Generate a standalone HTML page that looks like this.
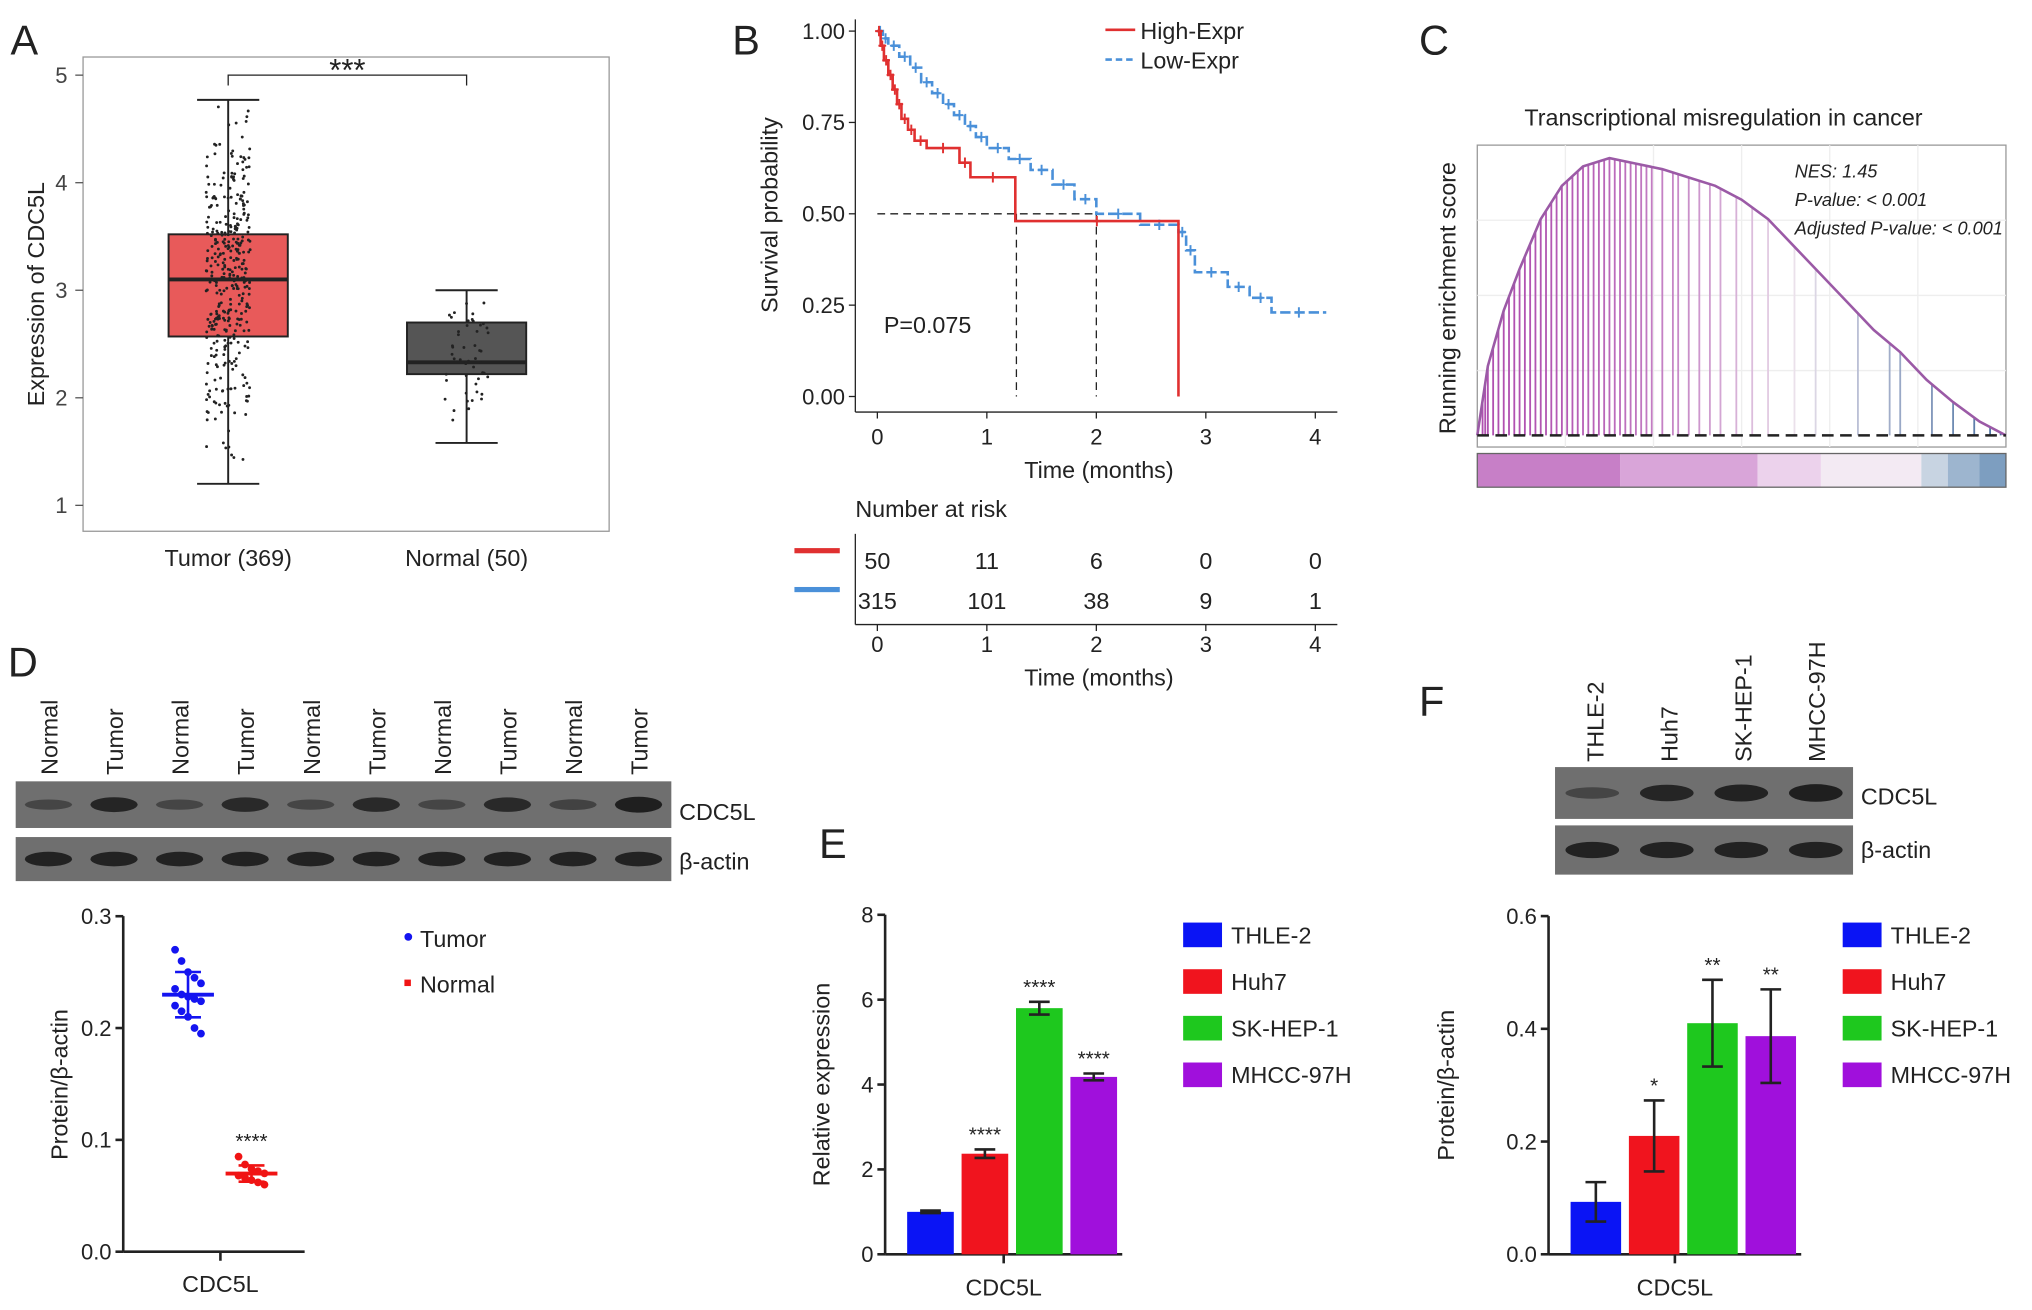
<!DOCTYPE html>
<html><head><meta charset="utf-8"><style>
html,body{margin:0;padding:0;background:#fff}
svg{display:block;font-family:"Liberation Sans",Arial,sans-serif}
</style></head><body>
<svg id="fig" width="2032" height="1310" viewBox="0 0 1568 1011" xmlns="http://www.w3.org/2000/svg">
<g id="gA"></g>
<g id="gB"></g>
<g id="gC"></g>
<g id="gD"></g>
<g id="gE"></g>
<g id="gF"></g>
</svg>
<script>
// ---------- data ----------
const boxGroups=["Tumor (369)","Normal (50)"];
const boxQ1=[2.57,2.22], boxMed=[3.1,2.33], boxQ3=[3.52,2.7], boxLo=[1.2,1.58], boxHi=[4.77,3.0];
const boxN=[369,50];
const kmHighT=[0,0.03,0.06,0.1,0.14,0.18,0.22,0.28,0.34,0.45,0.75,0.85,1.26,2.75];
const kmHighS=[1,0.96,0.92,0.88,0.84,0.8,0.76,0.73,0.7,0.68,0.64,0.6,0.48,0];
const kmLowT=[0,0.05,0.1,0.2,0.3,0.4,0.5,0.6,0.7,0.8,0.9,1.0,1.2,1.4,1.6,1.8,2.0,2.4,2.75,2.82,2.9,3.2,3.4,3.6,4.1];
const kmLowS=[1,0.98,0.96,0.93,0.9,0.86,0.83,0.8,0.77,0.74,0.71,0.68,0.65,0.62,0.58,0.54,0.5,0.47,0.45,0.4,0.34,0.3,0.27,0.23,0.23];
const riskTimes=[0,1,2,3,4];
const riskHigh=[50,11,6,0,0], riskLow=[315,101,38,9,1];
const esX=[0,0.02,0.05,0.08,0.12,0.16,0.2,0.25,0.3,0.35,0.4,0.45,0.5,0.55,0.6,0.65,0.7,0.75,0.8,0.85,0.9,0.95,1];
const esY=[0,0.25,0.45,0.6,0.78,0.9,0.97,1.0,0.98,0.96,0.93,0.9,0.85,0.78,0.68,0.58,0.48,0.38,0.3,0.2,0.12,0.05,0];
const hits=[0.01,0.015,0.02,0.03,0.04,0.05,0.06,0.07,0.08,0.09,0.1,0.11,0.12,0.13,0.14,0.15,0.16,0.17,0.18,0.19,0.2,0.21,0.22,0.23,0.24,0.25,0.26,0.27,0.28,0.29,0.3,0.31,0.32,0.33,0.35,0.37,0.38,0.4,0.42,0.44,0.46,0.49,0.52,0.55,0.6,0.64,0.72,0.78,0.8,0.86,0.9,0.94,0.97,0.99];
const dTumor=[0.27,0.26,0.25,0.245,0.24,0.235,0.23,0.228,0.226,0.224,0.22,0.215,0.21,0.2,0.195];
const dNormal=[0.085,0.078,0.074,0.072,0.07,0.068,0.066,0.064,0.062,0.06];
const barCats=["THLE-2","Huh7","SK-HEP-1","MHCC-97H"];
const barColors=["#0a14f5","#f0141e","#1ec81e","#a010dc"];
const eVals=[1.0,2.37,5.8,4.18], eErr=[0.03,0.1,0.15,0.08], eStars=["","****","****","****"];
const eTicks=[0,2,4,6,8];
const fVals=[0.093,0.21,0.41,0.387], fErr=[0.035,0.063,0.077,0.083], fStars=["","*","**","**"];
const fTicks=[0,0.2,0.4,0.6];

// ---------- helpers ----------
const NS="http://www.w3.org/2000/svg";
function mk(p,tag,at,txt){const e=document.createElementNS(NS,tag);for(const k in at)e.setAttribute(k,at[k]);if(txt!==undefined)e.textContent=txt;p.appendChild(e);return e;}
let seed=7;function rnd(){seed=(seed*16807)%2147483647;return seed/2147483647;}
function label(p,x,y,t,s,extra){const e=mk(p,"text",Object.assign({x:x,y:y,"font-size":s||18,fill:"#222"},extra||{}),t);return e;}

// ---------- A ----------
(function(){const g=document.getElementById("gA");
const y=v=>390-(v-1)*83;
label(g,8,42,"A",32);
const fr=mk(g,"rect",{x:64,y:44,width:406,height:366,fill:"none",stroke:"#999"});

[1,2,3,4,5].forEach(v=>{mk(g,"line",{x1:58,x2:64,y1:y(v),y2:y(v),stroke:"#555"});
const t=label(g,52,y(v)+6,String(v),17,{"text-anchor":"end",fill:"#444"});});
const yt=label(g,34,227,"Expression of CDC5L",18,{"text-anchor":"middle",transform:"rotate(-90 34 227)"});

const cx=[176,360],w=[92,92],fill=["#e85a5a","#555"];
boxGroups.forEach((n,i)=>{
 mk(g,"line",{x1:cx[i],x2:cx[i],y1:y(boxLo[i]),y2:y(boxHi[i]),stroke:"#222","stroke-width":1.5});
 [boxLo[i],boxHi[i]].forEach(v=>mk(g,"line",{x1:cx[i]-24,x2:cx[i]+24,y1:y(v),y2:y(v),stroke:"#222","stroke-width":1.5}));
 const b=mk(g,"rect",{x:cx[i]-w[i]/2,y:y(boxQ3[i]),width:w[i],height:y(boxQ1[i])-y(boxQ3[i]),fill:fill[i],stroke:"#222","stroke-width":1.5});
 
 mk(g,"line",{x1:cx[i]-w[i]/2,x2:cx[i]+w[i]/2,y1:y(boxMed[i]),y2:y(boxMed[i]),stroke:"#222","stroke-width":3});
 for(let k=0;k<boxN[i];k++){const u=(rnd()+rnd()+rnd()-1.5)/1.5;const v=boxMed[i]+u*(boxQ3[i]-boxQ1[i])*2.0;
  const vv=Math.max(boxLo[i]-0.25,Math.min(boxHi[i],v));mk(g,"circle",{cx:cx[i]+(rnd()-0.5)*34,cy:y(vv),r:1.1,fill:"#222"});}
 const t=label(g,cx[i],437,n,18,{"text-anchor":"middle"});
});
mk(g,"path",{d:"M176 66 V58 H360 V66",fill:"none",stroke:"#222"});
label(g,268,62,"***",24,{"text-anchor":"middle"});
})();

// ---------- B ----------
(function(){const g=document.getElementById("gB");
const x=t=>677+t*84.5,y=s=>306-s*282;
label(g,565,42,"B",32);
mk(g,"line",{x1:660,x2:660,y1:15,y2:318,stroke:"#222"});mk(g,"line",{x1:660,x2:1032,y1:318,y2:318,stroke:"#222"});
[0,0.25,0.5,0.75,1].forEach(v=>{mk(g,"line",{x1:655,x2:660,y1:y(v),y2:y(v),stroke:"#222"});label(g,652,y(v)+6,v.toFixed(2),17,{"text-anchor":"end"});});
[0,1,2,3,4].forEach(v=>{mk(g,"line",{x1:x(v),x2:x(v),y1:318,y2:323,stroke:"#222"});label(g,x(v),343,String(v),17,{"text-anchor":"middle"});});
label(g,848,369,"Time (months)",18,{"text-anchor":"middle"});
label(g,600,166,"Survival probability",18,{"text-anchor":"middle",transform:"rotate(-90 600 166)"});
mk(g,"path",{d:`M${x(0)} ${y(0.5)} H${x(2)} M${x(1.27)} ${y(0.5)} V306 M${x(2)} ${y(0.5)} V306`,stroke:"#222","stroke-dasharray":"6 4",fill:"none"});
function step(T,S,col,dash,name){let d=`M${x(T[0])} ${y(S[0])}`;for(let i=1;i<T.length;i++)d+=` H${x(T[i])} V${y(S[i])}`;
 const p=mk(g,"path",{d:d,fill:"none",stroke:col,"stroke-width":2,"stroke-dasharray":dash});
 for(let i=0;i<T.length-1;i++){const xm=(x(T[i])+x(T[i+1]))/2;mk(g,"path",{d:`M${xm-3} ${y(S[i])}h6M${xm} ${y(S[i])-4}v8`,stroke:col,"stroke-width":1.5});}}
step(kmLowT,kmLowS,"#4a90d9","8 3","km-low-expr");
step(kmHighT,kmHighS,"#e03030","","km-high-expr");
label(g,682,257,"P=0.075",18);
mk(g,"line",{x1:853,x2:876,y1:23,y2:23,stroke:"#e03030","stroke-width":2});label(g,880,30,"High-Expr",18);
mk(g,"line",{x1:853,x2:876,y1:46,y2:46,stroke:"#4a90d9","stroke-width":2,"stroke-dasharray":"5 3"});label(g,880,53,"Low-Expr",18);
label(g,660,399,"Number at risk",18);
mk(g,"line",{x1:660,x2:660,y1:412,y2:482,stroke:"#222"});mk(g,"line",{x1:660,x2:1032,y1:482,y2:482,stroke:"#222"});
mk(g,"rect",{x:613,y:423,width:35,height:4,fill:"#e03030"});mk(g,"rect",{x:613,y:453,width:35,height:4,fill:"#4a90d9"});
riskTimes.forEach((t,i)=>{label(g,x(t),439,String(riskHigh[i]),18,{"text-anchor":"middle"});label(g,x(t),470,String(riskLow[i]),18,{"text-anchor":"middle"});
 mk(g,"line",{x1:x(t),x2:x(t),y1:482,y2:487,stroke:"#222"});label(g,x(t),503,String(t),17,{"text-anchor":"middle"});});
label(g,848,529,"Time (months)",18,{"text-anchor":"middle"});
})();

// ---------- C ----------
(function(){const g=document.getElementById("gC");
const X0=1140,W=408,x=f=>X0+f*W,y=v=>336-v*214;
label(g,1095,42,"C",32);
label(g,1330,97,"Transcriptional misregulation in cancer",18,{"text-anchor":"middle"});
mk(g,"rect",{x:X0,y:112,width:W,height:233,fill:"#fff",stroke:"#999"});
for(let i=1;i<6;i++){mk(g,"line",{x1:X0+i*W/6,x2:X0+i*W/6,y1:112,y2:345,stroke:"#eee"});}
for(let i=1;i<4;i++){mk(g,"line",{x1:X0,x2:X0+W,y1:112+i*58,y2:112+i*58,stroke:"#eee"});}
function interp(f){for(let i=1;i<esX.length;i++)if(f<=esX[i]){const t=(f-esX[i-1])/(esX[i]-esX[i-1]);return esY[i-1]+t*(esY[i]-esY[i-1]);}return 0;}
function col(f){const a=[176,80,176],b=[70,110,160],c=[235,225,235];let r;if(f<0.6){const t=f/0.6;r=a.map((v,i)=>v+(c[i]-v)*t*t);}else{const t=(f-0.6)/0.4;r=c.map((v,i)=>v+(b[i]-v)*t);}return `rgb(${r.map(Math.round)})`;}
hits.forEach(f=>{const l=mk(g,"line",{x1:x(f),x2:x(f),y1:y(interp(f)),y2:336,stroke:col(f),"stroke-width":1.4});});
let d="";esX.forEach((f,i)=>d+=(i?"L":"M")+x(f)+" "+y(esY[i]));
const p=mk(g,"path",{d:d,fill:"none",stroke:"#9b5aa6","stroke-width":2});
mk(g,"line",{x1:X0,x2:X0+W,y1:336,y2:336,stroke:"#222","stroke-width":2,"stroke-dasharray":"9 5"});
const segs=[["#c77fc7",0.27],["#d9a5d9",0.26],["#ecd2ec",0.12],["#f3eaf3",0.19],["#c8d4e2",0.05],["#9db5cf",0.06],["#7d9ec0",0.05]];
let cx=X0;segs.forEach(s=>{const w=s[1]*W;mk(g,"rect",{x:cx,y:350,width:w,height:26,fill:s[0]});cx+=w;});
mk(g,"rect",{x:X0,y:350,width:W,height:26,fill:"none",stroke:"#666"});
label(g,1123,230,"Running enrichment score",18,{"text-anchor":"middle",transform:"rotate(-90 1123 230)"});
label(g,1385,137,"NES: 1.45",14,{"font-style":"italic"});
label(g,1385,159,"P-value: < 0.001",14,{"font-style":"italic"});
label(g,1385,181,"Adjusted P-value: < 0.001",14,{"font-style":"italic"});
})();

// ---------- blots ----------
function blot(g,x0,y0,w,h,n,inten,name){const r=mk(g,"rect",{x:x0,y:y0,width:w,height:h,fill:"#6f6f6f"});
 for(let i=0;i<n;i++){const cx=x0+(i+0.5)*w/n;mk(g,"ellipse",{cx:cx,cy:y0+h/2,rx:w/n*0.36,ry:h*0.08+h*0.1*inten[i],fill:"#141414","fill-opacity":0.25+0.7*inten[i]});}}

// ---------- D ----------
(function(){const g=document.getElementById("gD");
label(g,6,522,"D",32);
const labs=["Normal","Tumor","Normal","Tumor","Normal","Tumor","Normal","Tumor","Normal","Tumor"];
labs.forEach((t,i)=>{const xx=12+(i+0.5)*50.6+7;label(g,xx,598,t,18,{transform:`rotate(-90 ${xx} 598)`});});
blot(g,12,603,506,36,10,[0.3,0.8,0.3,0.75,0.3,0.75,0.3,0.75,0.35,0.9],"cdc5l-blot");
blot(g,12,646,506,34,10,[0.85,0.85,0.85,0.85,0.85,0.85,0.85,0.85,0.85,0.85],"actin-blot");
label(g,524,633,"CDC5L",18);label(g,524,671,"β-actin",18);
const y=v=>966-v*863;
mk(g,"line",{x1:95,x2:95,y1:707,y2:966,stroke:"#222","stroke-width":2});mk(g,"line",{x1:95,x2:235,y1:966,y2:966,stroke:"#222","stroke-width":2});
[0,0.1,0.2,0.3].forEach(v=>{mk(g,"line",{x1:89,x2:95,y1:y(v),y2:y(v),stroke:"#222","stroke-width":2});label(g,86,y(v)+6,v.toFixed(1),17,{"text-anchor":"end"});});
mk(g,"line",{x1:170,x2:170,y1:966,y2:973,stroke:"#222","stroke-width":2});
label(g,170,997,"CDC5L",18,{"text-anchor":"middle"});
label(g,52,837,"Protein/β-actin",18,{"text-anchor":"middle",transform:"rotate(-90 52 837)"});
function pts(arr,cx,col,name){arr.forEach((v,i)=>{const c=mk(g,"circle",{cx:cx+((i%5)-2)*5,cy:y(v),r:3,fill:col});});
 const m=arr.reduce((a,b)=>a+b)/arr.length;const sd=Math.sqrt(arr.reduce((a,b)=>a+(b-m)*(b-m),0)/arr.length);
 mk(g,"line",{x1:cx-20,x2:cx+20,y1:y(m),y2:y(m),stroke:col,"stroke-width":3});
 mk(g,"path",{d:`M${cx} ${y(m-sd)}V${y(m+sd)}M${cx-10} ${y(m-sd)}h20M${cx-10} ${y(m+sd)}h20`,stroke:col,"stroke-width":2});}
pts(dTumor,145,"#1414f0","tumor-point");pts(dNormal,194,"#f01414","normal-point");
label(g,194,886,"****",16,{"text-anchor":"middle"});
mk(g,"circle",{cx:315,cy:723,r:3,fill:"#1414f0"});label(g,324,731,"Tumor",18);
mk(g,"rect",{x:312,y:756,width:5,height:5,fill:"#f01414"});label(g,324,766,"Normal",18);
})();

// ---------- bar chart helper ----------
function bars(g,X0,X1,Y0,Y1,maxV,ticks,vals,errs,stars,fmt,legX,legY,ytitle,ytx){
 const y=v=>Y1-v/maxV*(Y1-Y0);
 mk(g,"line",{x1:X0,x2:X0,y1:Y0,y2:Y1,stroke:"#222","stroke-width":2});mk(g,"line",{x1:X0,x2:X1,y1:Y1,y2:Y1,stroke:"#222","stroke-width":2});
 ticks.forEach(v=>{mk(g,"line",{x1:X0-6,x2:X0,y1:y(v),y2:y(v),stroke:"#222","stroke-width":2});label(g,X0-9,y(v)+6,fmt(v),17,{"text-anchor":"end"});});
 const bw=(X1-X0-15)/4;
 vals.forEach((v,i)=>{const bx=X0+15+i*bw+2;const r=mk(g,"rect",{x:bx,y:y(v),width:bw-6,height:Y1-y(v),fill:barColors[i]});
  
  const cx=bx+(bw-6)/2;mk(g,"path",{d:`M${cx} ${y(v-errs[i])}V${y(v+errs[i])}M${cx-8} ${y(v-errs[i])}h16M${cx-8} ${y(v+errs[i])}h16`,stroke:"#222","stroke-width":2,fill:"none"});
  if(stars[i])label(g,cx,y(v+errs[i])-6,stars[i],16,{"text-anchor":"middle"});});
 const mx=(X0+X1)/2;mk(g,"line",{x1:mx,x2:mx,y1:Y1,y2:Y1+7,stroke:"#222","stroke-width":2});
 label(g,mx,1000,"CDC5L",18,{"text-anchor":"middle"});
 label(g,ytx,(Y0+Y1)/2,ytitle,18,{"text-anchor":"middle",transform:`rotate(-90 ${ytx} ${(Y0+Y1)/2})`});
 barCats.forEach((c,i)=>{const s=mk(g,"rect",{x:legX,y:legY+i*36-10,width:30,height:19,fill:barColors[i]});
  label(g,legX+37,legY+i*36+6,c,18);});
}
(function(){const g=document.getElementById("gE");label(g,632,662,"E",32);
 bars(g,683,866,706,968,8,eTicks,eVals,eErr,eStars,v=>String(v),913,722,"Relative expression",640);})();
(function(){const g=document.getElementById("gF");label(g,1095,552,"F",32);
 ["THLE-2","Huh7","SK-HEP-1","MHCC-97H"].forEach((t,i)=>{const xx=1202+(i+0.5)*57+7;label(g,xx,588,t,18,{transform:`rotate(-90 ${xx} 588)`});});
 blot(g,1200,592,230,40,4,[0.3,0.8,0.85,0.9],"f-cdc5l-blot");blot(g,1200,637,230,38,4,[0.85,0.85,0.85,0.85],"f-actin-blot");
 label(g,1436,621,"CDC5L",18);label(g,1436,662,"β-actin",18);
 bars(g,1195,1390,707,968,0.6,fTicks,fVals,fErr,fStars,v=>v.toFixed(1),1422,722,"Protein/β-actin",1122);})();
</script>
</body></html>
